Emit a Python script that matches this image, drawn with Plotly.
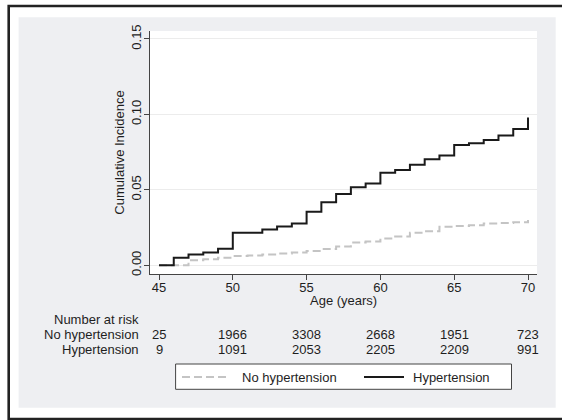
import plotly.graph_objects as go

# ---------------- data ----------------
ages = [45, 46, 47, 48, 49, 50, 51, 52, 53, 54, 55, 56, 57, 58, 59, 60,
        61, 62, 63, 64, 65, 66, 67, 68, 69, 70]
ci_hypertension = [0.0, 0.0049, 0.0071, 0.0084, 0.0110, 0.0215, 0.0215, 0.0237,
                   0.0257, 0.0277, 0.0355, 0.0418, 0.0473, 0.0517, 0.0542, 0.0614,
                   0.0632, 0.0666, 0.0703, 0.0728, 0.0797, 0.0809, 0.0831, 0.0860,
                   0.0904, 0.0979]
ci_no_hypertension = [0.0, 0.0, 0.0033, 0.0040, 0.0050, 0.0062, 0.0065, 0.0072,
                      0.0078, 0.0085, 0.0095, 0.0108, 0.0125, 0.0151, 0.0158, 0.0177,
                      0.0190, 0.0215, 0.0225, 0.0255, 0.0260, 0.0265, 0.0277, 0.0280,
                      0.0285, 0.0300]

risk_ages = [45, 50, 55, 60, 65, 70]
risk_no_hypertension = [25, 1966, 3308, 2668, 1951, 723]
risk_hypertension = [9, 1091, 2053, 2205, 2209, 991]

x_ticks = [45, 50, 55, 60, 65, 70]
y_ticks = [0.00, 0.05, 0.10, 0.15]

series_names = ["No hypertension", "Hypertension"]
y_title = "Cumulative Incidence"
x_title = "Age (years)"
risk_title = "Number at risk"

# ---------------- layout geometry ----------------
W, H = 562, 420
ML, MR, MT, MB = 150, 25, 31, 146
PW, PH = W - ML - MR, H - MT - MB


def px(x):
    return (x - ML) / PW


def py(y):
    return (H - MB - y) / PH


FONT = "Liberation Sans, Arial, Helvetica, sans-serif"
FS = 13
TXT = "#1e1e1e"
GRAY_BG = "#eeeff2"

fig = go.Figure()
fig.add_trace(go.Scatter(x=ages, y=ci_no_hypertension, mode="lines", line_shape="hv",
                         line=dict(color="#c4c4c4", width=2, dash="8px,4px"),
                         name=series_names[0], showlegend=False, hoverinfo="skip"))
fig.add_trace(go.Scatter(x=ages, y=ci_hypertension, mode="lines", line_shape="hv",
                         line=dict(color="#1a1a1a", width=2),
                         name=series_names[1], showlegend=False, hoverinfo="skip"))

shapes = []
# gray panel and white plot region
shapes.append(dict(type="rect", xref="paper", yref="paper", layer="below",
                   x0=px(18.6), x1=px(555.7), y0=py(407.7), y1=py(17.3),
                   fillcolor=GRAY_BG, line=dict(width=0)))
shapes.append(dict(type="rect", xref="paper", yref="paper", layer="below",
                   x0=0, x1=1, y0=0, y1=1, fillcolor="white", line=dict(width=0)))
# outer border
shapes.append(dict(type="rect", xref="paper", yref="paper", layer="above",
                   x0=px(8.7), x1=px(575), y0=py(419), y1=py(6),
                   fillcolor="rgba(0,0,0,0)", line=dict(color="#222222", width=2.6)))
# legend box
shapes.append(dict(type="rect", xref="paper", yref="paper", layer="above",
                   x0=px(175.6), x1=px(511.5), y0=py(389.3), y1=py(364),
                   fillcolor="white", line=dict(color="#444444", width=1)))
shapes.append(dict(type="line", xref="paper", yref="paper", layer="above",
                   x0=px(182), x1=px(229), y0=py(377), y1=py(377),
                   line=dict(color="#c4c4c4", width=2, dash="8px,4px")))
shapes.append(dict(type="line", xref="paper", yref="paper", layer="above",
                   x0=px(364), x1=px(404), y0=py(377), y1=py(377),
                   line=dict(color="#1a1a1a", width=2)))

annotations = []
annotations.append(dict(text=series_names[0], xref="paper", yref="paper",
                        x=px(240), y=py(377), xanchor="left", yanchor="middle",
                        showarrow=False, font=dict(family=FONT, size=FS, color=TXT)))
annotations.append(dict(text=series_names[1], xref="paper", yref="paper",
                        x=px(410.5), y=py(377), xanchor="left", yanchor="middle",
                        showarrow=False, font=dict(family=FONT, size=FS, color=TXT)))
# x axis title
annotations.append(dict(text=x_title, xref="paper", yref="paper",
                        x=0.5, y=py(300), xanchor="center", yanchor="middle",
                        showarrow=False, font=dict(family=FONT, size=FS, color=TXT)))

# number at risk table
rows = [(risk_title, None, 319), (series_names[0], risk_no_hypertension, 334.5),
        (series_names[1], risk_hypertension, 349.5)]
for label, vals, yy in rows:
    annotations.append(dict(text=label, xref="paper", yref="paper", x=px(141), y=py(yy),
                            xanchor="right", yanchor="middle", showarrow=False,
                            font=dict(family=FONT, size=FS, color=TXT)))
    if vals is not None:
        for a, v in zip(risk_ages, vals):
            annotations.append(dict(text=str(v), xref="x", yref="paper", x=a, y=py(yy),
                                    xanchor="center", yanchor="middle", showarrow=False,
                                    font=dict(family=FONT, size=FS, color=TXT)))

fig.update_layout(
    width=W, height=H,
    margin=dict(l=ML, r=MR, t=MT, b=MB),
    paper_bgcolor="white", plot_bgcolor="white",
    font=dict(family=FONT, size=FS, color=TXT),
    shapes=shapes, annotations=annotations,
    showlegend=False, hovermode=False,
)
fig.update_xaxes(range=[44.39, 70.61], tickvals=x_ticks, ticks="outside", ticklen=5,
                 tickcolor="#444", tickwidth=1.2, showline=True, linecolor="#444",
                 linewidth=1.4, showgrid=False, zeroline=False,
                 ticklabelstandoff=-4, tickfont=dict(size=FS))
fig.update_yaxes(range=[-0.0058, 0.1553], tickvals=y_ticks, tickformat=".2f",
                 tickangle=-90, ticks="outside", ticklen=5, tickcolor="#444",
                 tickwidth=1.2, showline=True, linecolor="#444", linewidth=1.4,
                 showgrid=True, gridcolor="#ececec", gridwidth=1, zeroline=False,
                 ticklabelstandoff=-2,
                 title=dict(text=y_title, standoff=1, font=dict(size=FS)),
                 tickfont=dict(size=FS))

fig.write_html("out.html", config={"displayModeBar": False},
               post_script="document.body.style.margin='0';"
               "document.body.style.overflow='hidden';")
